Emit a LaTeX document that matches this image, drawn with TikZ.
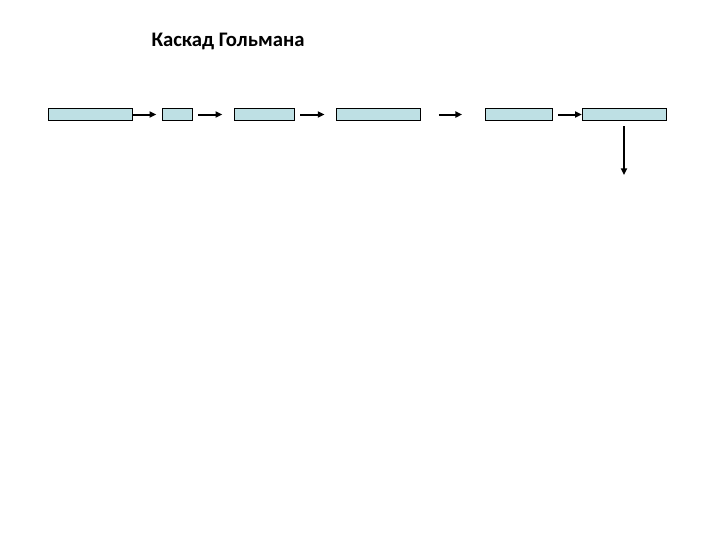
\documentclass[tikz,border=0pt]{standalone}
\usepackage{fontspec}
\setmainfont{Carlito}
\usetikzlibrary{arrows.meta}
\definecolor{boxfill}{RGB}{190,224,228}
\tikzset{every picture/.style={line width=0.75pt}}
\tikzset{
	stage/.style={draw, fill=boxfill, inner sep=0pt, minimum height=9.3pt},
	flow/.style={line width=1.5pt, -{Triangle[length=5pt,width=4.5pt]}}}

\begin{document}
\begin{tikzpicture}[x=0.75pt,y=0.75pt,yscale=-1,xscale=1]
	\useasboundingbox (0,0) rectangle (720,540);

	% Text Node
	\node (title) at (228,41) {\fontsize{15.5pt}{18pt}\selectfont\bfseries Каскад Гольмана};

	%Shape: Rectangle
	\node [stage, minimum width=63.3pt] (st1) at (90.5,114.5) {};
	%Shape: Rectangle
	\node [stage, minimum width=22.8pt] (st2) at (177.5,114.5) {};
	%Shape: Rectangle
	\node [stage, minimum width=45.3pt] (st3) at (264.5,114.5) {};
	%Shape: Rectangle
	\node [stage, minimum width=63.3pt] (st4) at (378.5,114.5) {};
	%Shape: Rectangle
	\node [stage, minimum width=50pt] (st5) at (519.3,114.5) {};
	%Shape: Rectangle
	\node [stage, minimum width=63.3pt] (st6) at (624.5,114.5) {};
	\coordinate (out) at (624,175);

	%Straight Lines
	\draw [flow, shorten >=4.2pt] (st1) -- (st2);
	%Straight Lines
	\draw [flow, shorten <=3.75pt, shorten >=8.7pt] (st2) -- (st3);
	%Straight Lines
	\draw [flow, shorten <=3.75pt, shorten >=8.5pt] (st3) -- (st4);
	%Straight Lines
	\draw [flow, shorten <=13.2pt, shorten >=17.5pt] (st4) -- (st5);
	%Straight Lines
	\draw [flow, shorten <=4pt] (st5) -- (st6);
	%Straight Lines
	\draw [flow, shorten <=3.75pt] (st6.south -| out) -- (out);

\end{tikzpicture}
\end{document}
